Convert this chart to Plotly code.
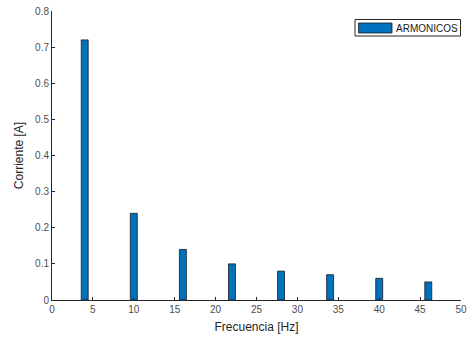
import plotly.graph_objects as go

# Harmonic spectrum data
frecuencias = [4, 10, 16, 22, 28, 34, 40, 46]
corrientes = [0.72, 0.24, 0.14, 0.10, 0.08, 0.07, 0.06, 0.05]
x_ticks = [0, 5, 10, 15, 20, 25, 30, 35, 40, 45, 50]
y_ticks = [0, 0.1, 0.2, 0.3, 0.4, 0.5, 0.6, 0.7, 0.8]
serie = "ARMONICOS"

font_family = "Liberation Sans, Arial, sans-serif"
axis_color = "#262626"
label_color = "#4d4d4d"
bar_color = "#0072BD"
edge_color = "#1a1a1a"

W, H = 467, 341
ML, MR, MT, MB = 52, 6, 11, 41

fig = go.Figure()
fig.add_trace(go.Bar(
    x=frecuencias,
    y=corrientes,
    width=0.85,
    name=serie,
    marker=dict(color=bar_color, line=dict(color=edge_color, width=0.8)),
    showlegend=False,
))

axis_common = dict(
    showline=True,
    linecolor=axis_color,
    linewidth=1,
    ticks="inside",
    ticklen=3,
    tickcolor=axis_color,
    showgrid=False,
    zeroline=False,
    automargin=False,
    tickfont=dict(family=font_family, size=10, color=label_color),
    mirror=False,
)

# Legend box drawn in pixel-based paper coordinates (MATLAB-style wide swatch)
pw, ph = W - ML - MR, H - MT - MB
def px(x):
    return (x - ML) / pw
def py(y):
    return 1 - (y - MT) / ph

shapes = [
    dict(type="rect", xref="paper", yref="paper",
         x0=px(355), x1=px(460.5), y0=py(36), y1=py(19.5),
         line=dict(color="#262626", width=1), fillcolor="white", layer="above"),
    dict(type="rect", xref="paper", yref="paper",
         x0=px(358.5), x1=px(392), y0=py(33), y1=py(23),
         line=dict(color=edge_color, width=0.8), fillcolor=bar_color, layer="above"),
]
annotations = [
    dict(text=serie, xref="paper", yref="paper", x=px(394), y=py(28),
         xanchor="left", yanchor="middle", showarrow=False,
         font=dict(family=font_family, size=10, color="#1a1a1a")),
]

fig.update_layout(
    width=W,
    height=H,
    margin=dict(l=ML, r=MR, t=MT, b=MB),
    paper_bgcolor="white",
    plot_bgcolor="white",
    showlegend=False,
    shapes=shapes,
    annotations=annotations,
    xaxis=dict(
        range=[0, 50],
        tickvals=x_ticks,
        title=dict(text="Frecuencia [Hz]", standoff=8,
                   font=dict(family=font_family, size=12, color="#262626")),
        **axis_common,
    ),
    yaxis=dict(
        range=[0, 0.8],
        tickvals=y_ticks,
        ticktext=[f"{v:g}" for v in y_ticks],
        title=dict(text="Corriente [A]", standoff=8,
                   font=dict(family=font_family, size=12, color="#262626")),
        **axis_common,
    ),
)

fig.write_html("out.html")
